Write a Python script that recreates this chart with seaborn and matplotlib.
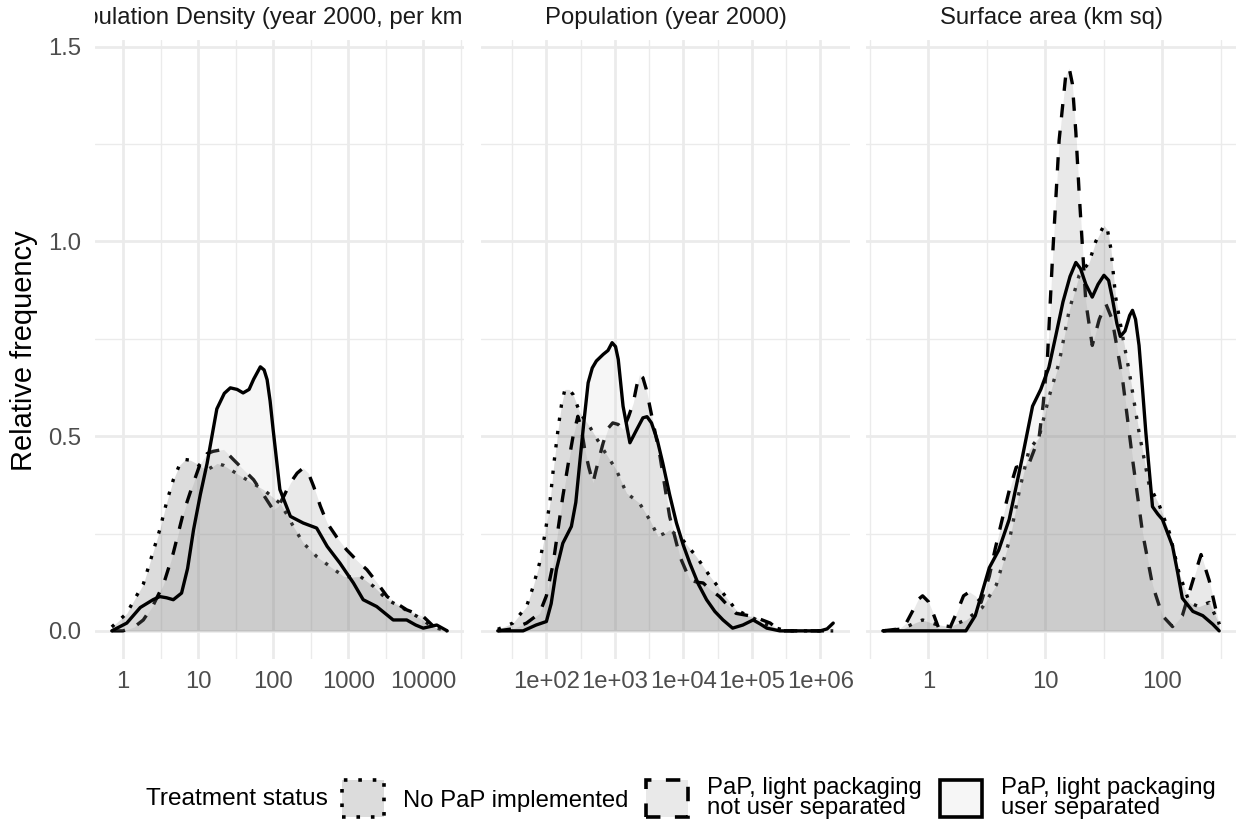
import numpy as np
import pandas as pd
import matplotlib
matplotlib.use("Agg")
import matplotlib.pyplot as plt
import seaborn as sns
from matplotlib.patches import Patch
from matplotlib.transforms import Bbox, TransformedBbox

# ---------------- data (x in log10 units, y = density) ----------------
PANEL_TITLES = ["Population Density (year 2000, per km sq)",
                "Population (year 2000)",
                "Surface area (km sq)"]
GROUPS = ["No PaP implemented",
          "PaP, light packaging\nnot user separated",
          "PaP, light packaging\nuser separated"]

# Panel 1: population density
DENS_NOPAP_X = [-0.15, 0.05, 0.15, 0.27, 0.38, 0.49, 0.58, 0.67, 0.75, 0.83, 0.90, 0.98, 1.05, 1.12, 1.18, 1.25,
                1.34, 1.43, 1.65, 1.87, 2.09, 2.18, 2.27, 2.40, 2.58, 2.76, 2.94, 3.05, 3.16, 3.34, 3.52, 3.69,
                3.92, 4.09, 4.18, 4.32]
DENS_NOPAP_Y = [0.01, 0.045, 0.08, 0.12, 0.19, 0.26, 0.33, 0.388, 0.425, 0.44, 0.438, 0.43, 0.42, 0.414, 0.42, 0.43,
                0.425, 0.414, 0.388, 0.363, 0.328, 0.30, 0.268, 0.226, 0.191, 0.165, 0.14, 0.138, 0.14, 0.114, 0.08,
                0.0625, 0.037, 0.015, 0.007, 0.0]
DENS_NOTSEP_X = [-0.15, 0.0, 0.15, 0.27, 0.40, 0.54, 0.67, 0.80, 0.92, 1.03, 1.12, 1.20, 1.34, 1.47, 1.60, 1.74,
                 1.87, 2.0, 2.07, 2.14, 2.23, 2.32, 2.40, 2.47, 2.54, 2.63, 2.72, 2.85, 2.98, 3.12, 3.25, 3.38,
                 3.52, 3.65, 3.78, 4.0, 4.14, 4.23, 4.32]
DENS_NOTSEP_Y = [0.0, 0.0, 0.01, 0.028, 0.065, 0.12, 0.2, 0.30, 0.37, 0.43, 0.455, 0.461, 0.466, 0.44, 0.415, 0.388,
                 0.35, 0.311, 0.32, 0.345, 0.38, 0.405, 0.418, 0.405, 0.371, 0.32, 0.277, 0.24, 0.208, 0.18, 0.157,
                 0.125, 0.088, 0.07, 0.054, 0.037, 0.011, 0.003, 0.0]
DENS_SEP_X = [-0.15, 0.05, 0.23, 0.40, 0.49, 0.58, 0.67, 0.78, 0.86, 0.94, 1.03, 1.12, 1.25, 1.35, 1.43, 1.52, 1.60,
              1.68, 1.74, 1.83, 1.88, 1.92, 1.96, 2.0, 2.09, 2.23, 2.40, 2.58, 2.72, 2.89, 3.07, 3.20, 3.38, 3.60,
              3.78, 3.90, 4.0, 4.18, 4.32]
DENS_SEP_Y = [0.0, 0.02, 0.06, 0.08, 0.088, 0.085, 0.08, 0.097, 0.16, 0.26, 0.35, 0.43, 0.57, 0.61, 0.624, 0.62,
              0.611, 0.62, 0.646, 0.678, 0.67, 0.645, 0.59, 0.517, 0.363, 0.294, 0.277, 0.264, 0.217, 0.174, 0.123,
              0.08, 0.0625, 0.028, 0.028, 0.015, 0.007, 0.015, 0.0]

# Panel 2: population
POP_NOPAP_X = [1.29, 1.51, 1.71, 1.80, 1.90, 1.98, 2.05, 2.11, 2.17, 2.22, 2.27, 2.33, 2.39, 2.49, 2.63, 2.83, 3.02,
               3.17, 3.36, 3.51, 3.63, 3.72, 3.80, 3.99, 4.19, 4.39, 4.58, 4.77, 4.97, 5.17, 5.36, 5.51, 5.9, 6.19]
POP_NOPAP_Y = [0.004, 0.02, 0.0625, 0.11, 0.174, 0.25, 0.328, 0.43, 0.517, 0.58, 0.62, 0.62, 0.607, 0.56, 0.525,
               0.466, 0.414, 0.354, 0.328, 0.285, 0.243, 0.25, 0.26, 0.234, 0.191, 0.14, 0.097, 0.054, 0.037, 0.02,
               0.007, 0.0, 0.0, 0.0]
POP_NOTSEP_X = [1.29, 1.50, 1.71, 1.90, 2.0, 2.10, 2.17, 2.24, 2.32, 2.39, 2.46, 2.51, 2.56, 2.62, 2.68, 2.75, 2.83,
                2.90, 2.97, 3.05, 3.12, 3.20, 3.27, 3.32, 3.36, 3.41, 3.46, 3.56, 3.66, 3.80, 3.95, 4.095, 4.20,
                4.29, 4.40, 4.53, 4.65, 4.77, 5.02, 5.27, 5.41, 5.8, 6.19]
POP_NOTSEP_Y = [0.0, 0.005, 0.02, 0.045, 0.09, 0.174, 0.26, 0.345, 0.43, 0.5, 0.551, 0.52, 0.466, 0.42, 0.38, 0.43,
                0.483, 0.52, 0.534, 0.53, 0.517, 0.55, 0.586, 0.63, 0.658, 0.65, 0.62, 0.534, 0.448, 0.294, 0.191,
                0.131, 0.125, 0.123, 0.105, 0.088, 0.065, 0.045, 0.037, 0.02, 0.0, 0.0, 0.0]
POP_SEP_X = [1.29, 1.66, 1.85, 2.0, 2.07, 2.146, 2.24, 2.365, 2.43, 2.487, 2.55, 2.61, 2.67, 2.73, 2.83, 2.90, 2.96,
             3.01, 3.05, 3.12, 3.22, 3.32, 3.41, 3.47, 3.535, 3.62, 3.70, 3.80, 3.90, 4.0, 4.095, 4.22, 4.34, 4.46,
             4.58, 4.72, 4.87, 5.02, 5.12, 5.22, 5.41, 5.7, 6.0, 6.1, 6.19]
POP_SEP_Y = [0.0, 0.0, 0.015, 0.024, 0.07, 0.157, 0.225, 0.268, 0.33, 0.431, 0.54, 0.637, 0.675, 0.693, 0.71, 0.72,
             0.74, 0.73, 0.697, 0.577, 0.483, 0.517, 0.547, 0.55, 0.534, 0.49, 0.431, 0.35, 0.277, 0.22, 0.174, 0.12,
             0.08, 0.05, 0.028, 0.007, 0.015, 0.028, 0.018, 0.007, 0.0, 0.0, 0.0, 0.005, 0.02]

# Panel 3: surface area
AREA_NOPAP_X = [-0.39, -0.22, -0.12, -0.05, 0.06, 0.18, 0.32, 0.46, 0.58, 0.69, 0.78, 0.86, 0.946, 1.03, 1.117,
                1.203, 1.288, 1.373, 1.43, 1.50, 1.53, 1.56, 1.60, 1.66, 1.716, 1.80, 1.886, 1.97, 2.06, 2.14, 2.23,
                2.31, 2.40, 2.485]
AREA_NOPAP_Y = [0.0, 0.005, 0.02, 0.028, 0.017, 0.011, 0.028, 0.06, 0.118, 0.23, 0.364, 0.465, 0.498, 0.6, 0.689,
                0.823, 0.913, 0.946, 1.0, 1.041, 1.03, 0.98, 0.857, 0.756, 0.666, 0.51, 0.375, 0.325, 0.252, 0.151,
                0.073, 0.062, 0.073, 0.017]
AREA_NOTSEP_X = [-0.39, -0.25, -0.19, -0.137, -0.09, -0.05, 0.0, 0.034, 0.09, 0.18, 0.26, 0.30, 0.35, 0.40, 0.45,
                 0.52, 0.57, 0.63, 0.69, 0.75, 0.86, 0.946, 0.98, 1.017, 1.06, 1.117, 1.174, 1.203, 1.23, 1.26,
                 1.288, 1.345, 1.40, 1.46, 1.516, 1.57, 1.66, 1.744, 1.83, 1.915, 2.0, 2.086, 2.17, 2.26, 2.33,
                 2.40, 2.485]
AREA_NOTSEP_Y = [0.0, 0.005, 0.02, 0.05, 0.08, 0.09, 0.075, 0.05, 0.005, 0.005, 0.06, 0.09, 0.10, 0.09, 0.073,
                 0.14, 0.21, 0.286, 0.36, 0.42, 0.43, 0.498, 0.58, 0.70, 0.957, 1.26, 1.428, 1.445, 1.405, 1.28,
                 1.125, 0.845, 0.733, 0.80, 0.84, 0.80, 0.644, 0.442, 0.252, 0.118, 0.039, 0.011, 0.039, 0.129,
                 0.196, 0.129, 0.017]
AREA_SEP_X = [-0.39, 0.0, 0.32, 0.40, 0.46, 0.52, 0.60, 0.69, 0.80, 0.89, 0.96, 1.03, 1.09, 1.15, 1.21, 1.26, 1.30,
              1.345, 1.40, 1.45, 1.50, 1.54, 1.57, 1.61, 1.64, 1.68, 1.72, 1.744, 1.77, 1.80, 1.83, 1.858, 1.915,
              1.96, 2.0, 2.086, 2.13, 2.17, 2.26, 2.345, 2.43, 2.485]
AREA_SEP_Y = [0.0, 0.0, 0.0, 0.039, 0.10, 0.162, 0.207, 0.286, 0.442, 0.577, 0.62, 0.677, 0.76, 0.845, 0.91, 0.946,
              0.93, 0.89, 0.857, 0.89, 0.913, 0.90, 0.857, 0.79, 0.756, 0.77, 0.81, 0.823, 0.80, 0.733, 0.62, 0.51,
              0.319, 0.30, 0.286, 0.218, 0.15, 0.084, 0.05, 0.039, 0.017, 0.0]

# tick positions (log10) and labels
DENS_TICKS = [0, 1, 2, 3, 4]
DENS_LABELS = ["1", "10", "100", "1000", "10000"]
POP_TICKS = [2, 3, 4, 5, 6]
POP_LABELS = ["1e+02", "1e+03", "1e+04", "1e+05", "1e+06"]
AREA_TICKS = [0, 1, 2]
AREA_LABELS = ["1", "10", "100"]
Y_TICKS = [0.0, 0.5, 1.0, 1.5]
Y_LABELS = ["0.0", "0.5", "1.0", "1.5"]

# ---------------- style ----------------
sns.set_theme(style="white")
plt.rcParams['font.family'] = ['Liberation Sans', 'DejaVu Sans']

W, H = 1238, 824
fig = plt.figure(figsize=(W / 100, H / 100), dpi=100)

FILLS = ["#333333", "#7f7f7f", "#cccccc"]
ALPHA = 0.17
STYLES = [(0, (1, 3)), (0, (4, 4)), "solid"]
LW = 2.4
GRID = "#ebebeb"
TICK_FS = 17.2
TITLE_FS = 20.9
LEG_TITLE_FS = 17.6

panels_px = [(95, 464), (481, 850), (866, 1236)]
top_px, bot_px = 40, 659

curves = [
    [(DENS_NOPAP_X, DENS_NOPAP_Y), (DENS_NOTSEP_X, DENS_NOTSEP_Y), (DENS_SEP_X, DENS_SEP_Y)],
    [(POP_NOPAP_X, POP_NOPAP_Y), (POP_NOTSEP_X, POP_NOTSEP_Y), (POP_SEP_X, POP_SEP_Y)],
    [(AREA_NOPAP_X, AREA_NOPAP_Y), (AREA_NOTSEP_X, AREA_NOTSEP_Y), (AREA_SEP_X, AREA_SEP_Y)],
]
ticks = [(DENS_TICKS, DENS_LABELS), (POP_TICKS, POP_LABELS), (AREA_TICKS, AREA_LABELS)]

ymax = max(max(y) for panel in curves for _, y in panel)
ylim = (-0.05 * ymax, 1.05 * ymax)

axes = []
for i, (x0, x1) in enumerate(panels_px):
    rect = [x0 / W, 1 - bot_px / H, (x1 - x0) / W, (bot_px - top_px) / H]
    ax = fig.add_axes(rect, sharey=axes[0] if axes else None)
    axes.append(ax)
    for g, (xs, ys) in enumerate(curves[i]):
        df = pd.DataFrame({"x": xs, "y": ys})
        ax.fill_between(df["x"], 0, df["y"], color=FILLS[g], alpha=ALPHA, lw=0, zorder=2 + g)
        sns.lineplot(data=df, x="x", y="y", ax=ax, color="black", lw=LW, linestyle=STYLES[g],
                     sort=False, estimator=None, zorder=2 + g + 0.5)
    xmin = min(min(x) for x, _ in curves[i])
    xmax = max(max(x) for x, _ in curves[i])
    span = xmax - xmin
    tk, lb = ticks[i]
    ax.set_xticks(tk)
    ax.set_xticklabels(lb)
    minor = [t + 0.5 for t in range(int(np.floor(xmin)) - 1, int(np.ceil(xmax)) + 1)]
    ax.set_xticks(minor, minor=True)
    ax.set_yticks(Y_TICKS)
    ax.set_yticks([0.25, 0.75, 1.25], minor=True)
    ax.set_xlim(xmin - 0.05 * span, xmax + 0.05 * span)
    ax.set_ylim(*ylim)
    if i == 0:
        ax.set_yticklabels(Y_LABELS)
    else:
        ax.tick_params(axis="y", labelleft=False)
    ax.set_xlabel("")
    ax.set_ylabel("")
    ax.grid(which="major", color=GRID, lw=2.0)
    ax.grid(which="minor", color=GRID, lw=1.0)
    ax.set_axisbelow(True)
    for s in ax.spines.values():
        s.set_visible(False)
    ax.tick_params(which="both", length=0, labelsize=TICK_FS, labelcolor="#4d4d4d")
    ax.tick_params(axis="x", pad=9)
    ax.tick_params(axis="y", pad=10)
    ax.set_facecolor("white")

    # strip title clipped to panel width
    cx = (x0 + x1) / 2 / W
    t = fig.text(cx, 1 - 18 / H, PANEL_TITLES[i], ha="center", va="center",
                 fontsize=TICK_FS, color="#1a1a1a")
    t.set_clip_box(TransformedBbox(Bbox.from_extents(x0 / W, 0.9, x1 / W, 1.0), fig.transFigure))
    t.set_clip_on(True)

fig.text(24 / W, 1 - 351 / H, "Relative frequency", rotation=90, ha="center", va="center",
         fontsize=TITLE_FS, color="black")

# legend
fig.text(146 / W, 1 - 799 / H, "Treatment status", ha="left", va="center", fontsize=LEG_TITLE_FS,
         color="black")
handles = [Patch(facecolor=matplotlib.colors.to_rgba(FILLS[g], ALPHA), edgecolor="black",
                 linestyle=STYLES[g], linewidth=2.6) for g in range(3)]
leg = fig.legend(handles, GROUPS, loc="center left", bbox_to_anchor=(342 / W, 1 - 798 / H), ncol=3,
                 frameon=False, fontsize=TICK_FS, handlelength=1.75, handleheight=2.0, handletextpad=0.8,
                 columnspacing=0.75, borderpad=0, borderaxespad=0)
for txt in leg.get_texts():
    txt.set_linespacing(0.9)
    txt.set_color("black")

fig.savefig("out.png", dpi=100, facecolor="white")
